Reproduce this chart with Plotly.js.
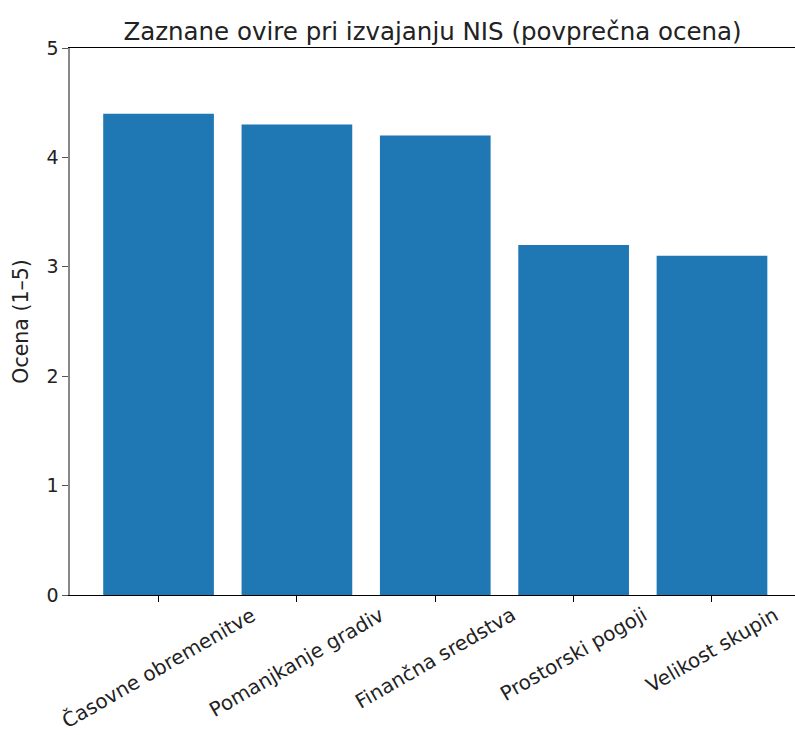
<!DOCTYPE html>
<html>
<head>
<meta charset="utf-8">
<script src="https://cdn.plot.ly/plotly-3.0.1.min.js"></script>
<style>html,body{margin:0;padding:0;background:#fff;}#chart{width:795px;height:735px;}</style>
</head>
<body>
<div id="chart"></div>
<script>
const categories = ["Časovne obremenitve", "Pomanjkanje gradiv", "Finančna sredstva", "Prostorski pogoji", "Velikost skupin"];
const values = [4.4, 4.3, 4.2, 3.2, 3.1];
const yTicks = [0, 1, 2, 3, 4, 5];
const titleText = "Zaznane ovire pri izvajanju NIS (povprečna ocena)";
const yTitle = "Ocena (1–5)";

const FONT = "DejaVu Sans, sans-serif";

const trace = {
  type: "bar",
  x: categories,
  y: values,
  marker: { color: "#1f77b4" },
  hoverinfo: "x+y"
};

const annotations = categories.map(c => ({
  x: c, xref: "x",
  y: 0, yref: "paper",
  yanchor: "top", xanchor: "center",
  yshift: -5,
  text: c,
  textangle: -30,
  showarrow: false,
  font: { family: FONT, size: 20, color: "#222" }
}));

const layout = {
  width: 795, height: 735,
  margin: { l: 70, r: 0, t: 48, b: 140, pad: 0 },
  paper_bgcolor: "#fff", plot_bgcolor: "#fff",
  bargap: 0.2,
  showlegend: false,
  title: {
    text: titleText,
    font: { family: FONT, size: 24.5, color: "#222" },
    x: 0.5, xref: "paper", xanchor: "center",
    y: 1, yref: "paper", yanchor: "bottom",
    pad: { b: 8 }
  },
  xaxis: {
    type: "category",
    range: [-0.64, 4.6],
    showticklabels: false,
    ticks: "outside", ticklen: 6, tickcolor: "#000", tickwidth: 1,
    showline: true, linecolor: "#000", linewidth: 1.2, mirror: true,
    showgrid: false, zeroline: false,
    fixedrange: true
  },
  yaxis: {
    range: [0, 5],
    tickvals: yTicks,
    ticktext: yTicks.map(String),
    ticks: "outside", ticklen: 6, tickcolor: "#555", tickwidth: 1,
    tickfont: { family: FONT, size: 19, color: "#222" },
    showline: true, linecolor: "#888", linewidth: 1.6, mirror: false,
    showgrid: false, zeroline: false,
    title: { text: yTitle, font: { family: FONT, size: 20.5, color: "#222" }, standoff: 12 },
    automargin: false,
    fixedrange: true
  },
  annotations: annotations
};

Plotly.newPlot("chart", [trace], layout, { displayModeBar: false, staticPlot: true });
</script>
</body>
</html>
